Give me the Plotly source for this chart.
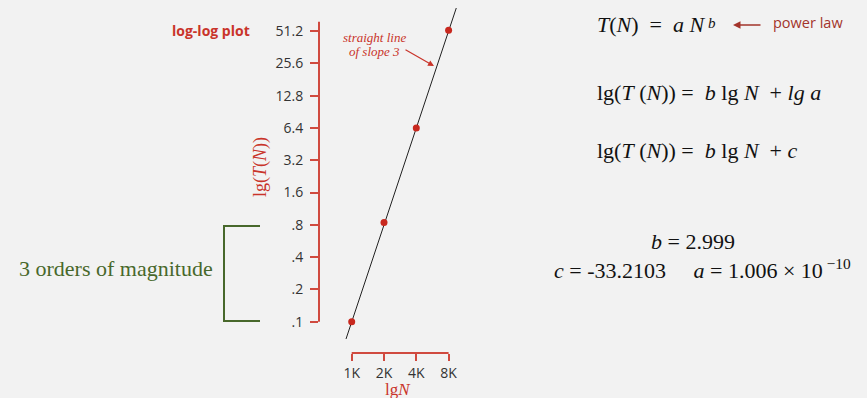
import plotly.graph_objects as go

# ---- data ----
N_values = [1000, 2000, 4000, 8000]
T_values = [0.1, 0.84, 6.4, 52.0]
fit_line_N = [885, 9870]
fit_line_T = [0.069, 96.0]
y_tick_vals = [0.1, 0.2, 0.4, 0.8, 1.6, 3.2, 6.4, 12.8, 25.6, 51.2]
y_tick_text = [".1", ".2", ".4", ".8", "1.6", "3.2", "6.4", "12.8", "25.6", "51.2"]
x_tick_vals = [1000, 2000, 4000, 8000]
x_tick_text = ["1K", "2K", "4K", "8K"]

# ---- styling ----
W, H = 867, 398
L, R, T, B = 319, 470, 8, 353
BG = "#f2f2f2"
RED = "#c9342a"
AXRED = "#d04a3f"
DARKRED = "#a3342b"
GREEN = "#48682b"
SERIF = "Liberation Serif"
SANS = "Open Sans"


def px(x):
    return (x - L) / (R - L)


def py(y):
    return (B - y) / (B - T)


fig = go.Figure()
fig.add_trace(go.Scatter(x=fit_line_N, y=fit_line_T, mode="lines",
                         line=dict(color="#222222", width=1), hoverinfo="skip"))
fig.add_trace(go.Scatter(x=N_values, y=T_values, mode="markers",
                         marker=dict(color="#c8281e", size=7), cliponaxis=False))

fig.update_xaxes(type="log", range=[2.6952, 4.1026], tickvals=x_tick_vals, ticktext=x_tick_text,
                 ticks="outside", ticklen=7, tickwidth=1.5, tickcolor=AXRED,
                 showgrid=False, zeroline=False, showline=False,
                 tickfont=dict(family=SANS, size=14, color="#333333"))
fig.update_yaxes(type="log", range=[-1.2917, 1.9236], tickvals=y_tick_vals, ticktext=y_tick_text,
                 ticks="outside", ticklen=8, tickwidth=1.5, tickcolor=AXRED,
                 showgrid=False, zeroline=False, showline=False,
                 ticklabelstandoff=4,
                 tickfont=dict(family=SANS, size=14, color="#333333"))

shapes = [
    # y axis line
    dict(type="line", xref="paper", yref="y", x0=0, x1=0, y0=0.1, y1=62.4,
         line=dict(color=AXRED, width=2)),
    # x axis line
    dict(type="line", xref="x", yref="paper", x0=1000, x1=8000, y0=0, y1=0,
         line=dict(color=AXRED, width=2)),
    # green bracket
    dict(type="path", xref="paper", yref="paper",
         path=f"M {px(260)},{py(226)} L {px(224)},{py(226)} L {px(224)},{py(321)} L {px(260)},{py(321)}",
         line=dict(color=GREEN, width=2)),
]

ann = []


def add(text, x, y, size, color, family, xanchor="center", angle=0):
    ann.append(dict(text=text, x=px(x), y=py(y), xref="paper", yref="paper",
                    xanchor=xanchor, yanchor="middle", showarrow=False, textangle=angle,
                    font=dict(family=family, size=size, color=color)))


add("<b>log-log plot</b>", 211, 30, 14, RED, SANS)
add("lg(<i>T</i>(<i>N</i>))", 260, 167, 18, RED, SERIF, angle=-90)
add("lg<i>N</i>", 398, 389, 17, RED, SERIF)
add("<i>straight line</i>", 374, 37, 13, RED, SERIF)
add("<i>of slope 3</i>", 374, 52, 13, RED, SERIF)
add("<i>T</i>(<i>N</i>)  =  <i>a N</i>", 595, 25, 22, "#111111", SERIF, "left")
add("<i>b</i>", 712, 23, 15, "#111111", SERIF)
add("power law", 771, 22, 14.5, DARKRED, SANS, "left")
add("lg(<i>T</i> (<i>N</i>)) =  <i>b</i> lg <i>N</i>  + <i>lg a</i>", 595, 92, 22, "#111111", SERIF, "left")
add("lg(<i>T</i> (<i>N</i>)) =  <i>b</i> lg <i>N</i>  + <i>c</i>", 595, 150, 22, "#111111", SERIF, "left")
add("<i>b</i> = 2.999", 693, 241, 22, "#111111", SERIF)
add("<i>c</i> = -33.2103     <i>a</i> = 1.006 × 10<sup> −10</sup>", 552, 269, 22, "#111111", SERIF, "left")
add("3 orders of magnitude", 17, 268, 22, GREEN, SERIF, "left")

# arrows
ann.append(dict(text="", x=px(434), y=py(66), xref="paper", yref="paper", showarrow=True,
                ax=404 - 434, ay=49 - 66, arrowhead=2, arrowsize=1, arrowwidth=1.2,
                arrowcolor=RED))
ann.append(dict(text="", x=px(733), y=py(25), xref="paper", yref="paper", showarrow=True,
                ax=762 - 733, ay=0, arrowhead=2, arrowsize=1, arrowwidth=1.5,
                arrowcolor=DARKRED))

fig.update_layout(width=W, height=H, margin=dict(l=L, r=W - R, t=T, b=H - B),
                  paper_bgcolor=BG, plot_bgcolor=BG, showlegend=False,
                  shapes=shapes, annotations=ann)

fig.write_html("out.html", config={"displayModeBar": False},
               post_script="document.body.style.margin='0';document.body.style.background='#f2f2f2';")
